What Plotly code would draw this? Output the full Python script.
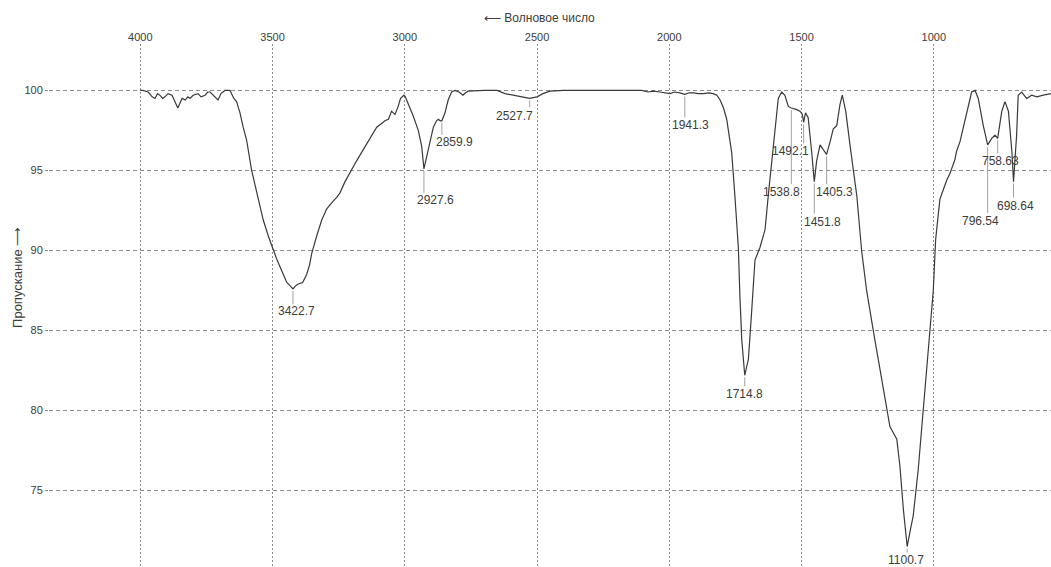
import plotly.graph_objects as go

# IR transmission spectrum (wavenumber in cm^-1, transmittance in %)
wavenumber = [
    4000, 3990, 3970, 3955, 3944, 3935, 3926, 3915, 3907, 3895, 3880, 3868, 3858, 3850,
    3842, 3830, 3820, 3812, 3800, 3782, 3770, 3755, 3745, 3736, 3725, 3715, 3706, 3695,
    3680, 3661, 3650, 3646, 3636, 3623, 3611, 3598, 3579, 3560, 3535, 3516, 3497, 3485,
    3472, 3459, 3446, 3434, 3422.7, 3412, 3403, 3386, 3371, 3360, 3352, 3333, 3314, 3295,
    3282, 3270, 3258, 3245, 3226, 3207, 3182, 3157, 3130, 3106, 3090, 3075, 3062, 3050,
    3043, 3037, 3025, 3016, 3003, 2998, 2993, 2980, 2968, 2949, 2936, 2927.6, 2917, 2905,
    2892, 2880, 2873, 2866, 2859.9, 2848, 2836, 2823, 2810, 2795, 2780, 2770, 2761, 2700,
    2651, 2621, 2583, 2557, 2527.7, 2500, 2478, 2451, 2400, 2300, 2200, 2104, 2080, 2060,
    2036, 2015, 1997, 1980, 1960, 1941.3, 1925, 1909, 1890, 1871, 1850, 1834, 1820, 1808,
    1795, 1783, 1764, 1752, 1739, 1733, 1726, 1714.8, 1701, 1689, 1676, 1657, 1638, 1626,
    1613, 1600, 1588, 1575, 1563, 1550, 1538.8, 1518, 1506, 1497, 1492.1, 1485, 1475, 1462,
    1451.8, 1443, 1430, 1418, 1405.3, 1392, 1380, 1367, 1355, 1346, 1333, 1317, 1304, 1291,
    1273, 1254, 1229, 1203, 1178, 1166, 1140, 1128, 1115, 1100.7, 1088, 1078, 1059, 1040,
    1021, 1002, 993, 977, 951, 939, 920, 914, 901, 889, 870, 857, 844, 832, 813, 796.54,
    781, 769, 758.63, 743, 731, 718, 705, 698.64, 687, 681, 668, 649, 630, 611, 586, 564, 557,
]
transmittance = [
    100.0, 100.0, 99.9, 99.6, 99.5, 99.8, 99.7, 99.5, 99.6, 99.8, 99.7, 99.3, 98.9, 99.2,
    99.5, 99.4, 99.6, 99.5, 99.7, 99.8, 99.6, 99.7, 99.9, 99.9, 99.7, 99.5, 99.4, 99.8,
    100.0, 100.0, 99.6, 99.5, 99.3, 98.6, 97.7, 96.9, 95.0, 93.6, 91.9, 90.9, 90.0, 89.5,
    89.0, 88.5, 88.0, 87.8, 87.6, 87.8, 87.9, 88.0, 88.5, 89.1, 89.8, 90.9, 91.9, 92.6,
    92.9, 93.1, 93.3, 93.6, 94.3, 94.9, 95.6, 96.3, 97.0, 97.7, 97.9, 98.1, 98.2, 98.7,
    98.6, 98.5, 99.0, 99.5, 99.7, 99.6, 99.4, 98.9, 98.4, 97.5, 96.5, 95.1, 95.9, 96.9,
    97.7, 98.1, 98.2, 98.1, 98.1, 98.6, 99.4, 99.9, 100.0, 99.9, 99.7, 99.85, 99.95, 100.0,
    100.0, 99.8, 99.7, 99.6, 99.5, 99.6, 99.8, 99.95, 100.0, 100.0, 100.0, 100.0, 99.9, 99.95,
    99.9, 99.85, 99.8, 99.9, 99.85, 99.75, 99.85, 99.85, 99.8, 99.8, 99.85, 99.8, 99.7, 99.4,
    98.9, 98.2, 96.1, 93.4, 90.2, 87.1, 84.4, 82.2, 83.2, 86.1, 89.4, 90.2, 91.3, 93.4,
    95.5, 98.0, 99.5, 99.9, 99.7, 99.0, 98.9, 98.8, 98.7, 98.5, 98.0, 98.6, 98.3, 96.2,
    94.3, 95.6, 96.6, 96.3, 96.0, 96.8, 97.6, 97.8, 99.1, 99.7, 98.7, 96.6, 95.0, 93.4,
    90.0, 87.5, 85.0, 82.5, 80.0, 79.0, 78.2, 76.5, 73.8, 71.5, 72.6, 73.4, 76.3, 80.0,
    83.8, 87.5, 90.7, 93.2, 94.4, 94.8, 95.7, 96.2, 96.8, 97.6, 98.9, 99.9, 100.0, 99.5, 97.8, 96.6,
    97.0, 97.2, 97.0, 98.7, 99.3, 98.7, 96.2, 94.3, 97.2, 99.7, 99.9, 99.5, 99.7, 99.6, 99.7, 99.8, 99.8,
]

# Marked band positions (label text is the wavenumber itself)
peak_wavenumber = [3422.7, 2927.6, 2859.9, 2527.7, 1941.3, 1714.8, 1538.8,
                   1492.1, 1451.8, 1405.3, 1100.7, 796.54, 758.63, 698.64]
peak_labels = ["3422.7", "2927.6", "2859.9", "2527.7", "1941.3", "1714.8", "1538.8",
               "1492.1", "1451.8", "1405.3", "1100.7", "796.54", "758.63", "698.64"]

# label placement relative to the band minimum, in pixels: (dx, dy down, leader length)
label_offsets = [(4, 22, 15), (12, 31, 24), (13, 21, 14), (-15, 18, 9), (6, 31, 23),
                 (0, 19, 11), (-10, 84, 76), (-13, 29, 21), (8, 40, 32), (8, 38, 30),
                 (-1, 13, 6), (-7, 76, 68), (3, 23, 15), (2, 24, 16)]

y_ticks = [75, 80, 85, 90, 95, 100]
x_ticks = [1000, 1500, 2000, 2500, 3000, 3500, 4000]

text_color = "#3c3c3c"
grid_color = "#8c8c8c"
font_family = "Liberation Sans, Arial, sans-serif"

fig = go.Figure()
fig.add_trace(go.Scatter(
    x=wavenumber, y=transmittance, mode="lines",
    line=dict(color="#3a3a3a", width=1.2),
    hoverinfo="x+y", showlegend=False,
))

lookup = dict(zip(wavenumber, transmittance))
for wn, label, (dx, dy, lead) in zip(peak_wavenumber, peak_labels, label_offsets):
    t = lookup[wn]
    fig.add_shape(
        type="line", xref="x", yref="y", x0=wn, x1=wn,
        ysizemode="pixel", yanchor=t, y0=-2, y1=-lead,
        line=dict(color="#a0a0a0", width=1),
    )
    fig.add_annotation(
        x=wn, y=t, xref="x", yref="y", text=label, showarrow=False,
        xanchor="center", yanchor="middle",
        xshift=dx, yshift=-dy, font=dict(size=12, color=text_color, family=font_family),
    )

# axis captions with arrows
fig.add_annotation(
    xref="paper", yref="paper", x=0.49, y=1.0497, text="⟵ Волновое число",
    xanchor="center", yanchor="middle",
    showarrow=False, font=dict(size=12, color=text_color, family=font_family),
)
fig.add_annotation(
    xref="paper", yref="paper", x=-0.031, y=0.5545, text="Пропускание ⟶",
    textangle=-90, xanchor="center", yanchor="middle", showarrow=False,
    font=dict(size=13, color=text_color, family=font_family),
)

fig.update_layout(
    width=1051, height=567,
    margin=dict(l=49, r=0, t=44, b=0),
    paper_bgcolor="white", plot_bgcolor="white",
    font=dict(family=font_family, size=11, color=text_color),
    xaxis=dict(
        range=[4345, 557], side="top", tickvals=x_ticks,
        ticktext=[str(v) for v in x_ticks],
        showgrid=True, gridcolor=grid_color, gridwidth=1, griddash="2px,2px",
        zeroline=False, showline=False, ticks="", ticklabelstandoff=0,
    ),
    yaxis=dict(
        range=[70.22, 102.9], tickvals=y_ticks,
        showgrid=True, gridcolor=grid_color, gridwidth=1, griddash="4px,3px",
        zeroline=False, showline=False, ticks="outside", ticklen=3,
        tickcolor=grid_color,
    ),
)

fig.write_html("out.html")
